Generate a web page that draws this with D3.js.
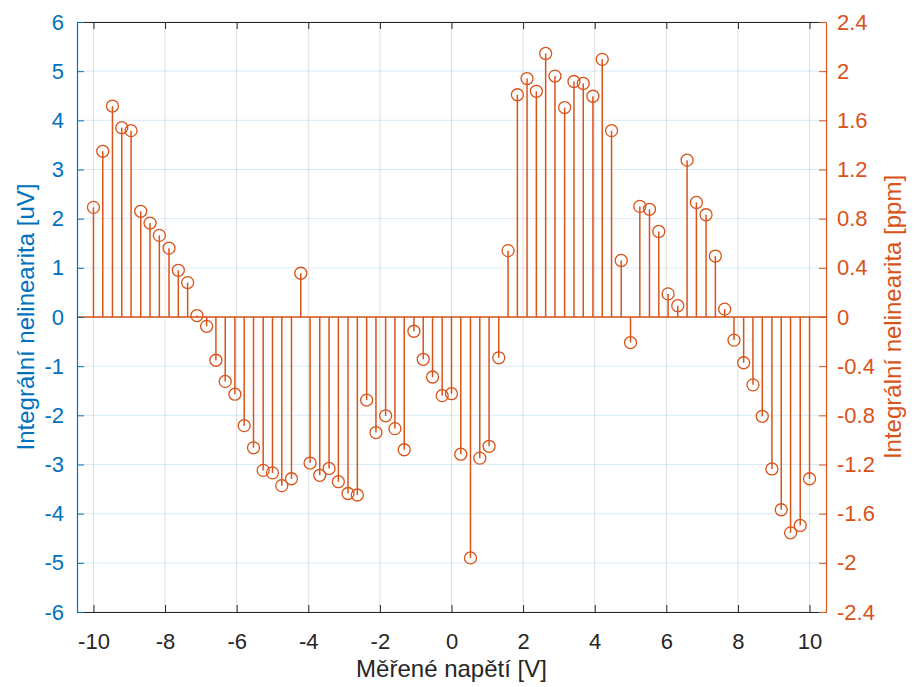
<!DOCTYPE html>
<html>
<head>
<meta charset="utf-8">
<script src="https://cdn.jsdelivr.net/npm/d3@7"></script>
<style>
  body { margin: 0; background: #fff; }
  text { font-family: 'Liberation Sans', Arial, sans-serif; }
</style>
</head>
<body>
<div id="chart"></div>
<script>
// measured voltage [V]
var volts = [
  -10, -9.74, -9.47, -9.21, -8.95, -8.68, -8.42, -8.16, -7.89, -7.63,
  -7.37, -7.11, -6.84, -6.58, -6.32, -6.05, -5.79, -5.53, -5.26, -5.00,
  -4.74, -4.47, -4.21, -3.95, -3.68, -3.42, -3.16, -2.89, -2.63, -2.37,
  -2.11, -1.84, -1.58, -1.32, -1.05, -0.79, -0.53, -0.26, 0, 0.26,
  0.53, 0.79, 1.05, 1.32, 1.58, 1.84, 2.11, 2.37, 2.63, 2.89,
  3.16, 3.42, 3.68, 3.95, 4.21, 4.47, 4.74, 5.00, 5.26, 5.53,
  5.79, 6.05, 6.32, 6.58, 6.84, 7.11, 7.37, 7.63, 7.89, 8.16,
  8.42, 8.68, 8.95, 9.21, 9.47, 9.74, 10
]

// integral nonlinearity [uV]
var inl = [
  2.23, 3.37, 4.29, 3.85, 3.79, 2.15, 1.91, 1.66, 1.40, 0.95,
  0.70, 0.03, -0.19, -0.88, -1.31, -1.57, -2.21, -2.66, -3.12, -3.17,
  -3.43, -3.29, 0.89, -2.97, -3.22, -3.08, -3.35, -3.59, -3.62, -1.69,
  -2.35, -2.01, -2.27, -2.70, -0.29, -0.86, -1.22, -1.60, -1.56, -2.79,
  -4.90, -2.87, -2.63, -0.83, 1.35, 4.52, 4.85, 4.59, 5.36, 4.90,
  4.26, 4.79, 4.75, 4.49, 5.24, 3.79, 1.15, -0.52, 2.25, 2.19,
  1.74, 0.47, 0.23, 3.19, 2.33, 2.08, 1.24, 0.16, -0.47, -0.93,
  -1.38, -2.02, -3.09, -3.92, -4.39, -4.24, -3.29
]

var xTicks = [-10, -8, -6, -4, -2, 0, 2, 4, 6, 8, 10]
var yTicksLeft = [-6, -5, -4, -3, -2, -1, 0, 1, 2, 3, 4, 5, 6]
var yTicksRight = [-2.4, -2, -1.6, -1.2, -0.8, -0.4, 0, 0.4, 0.8, 1.2, 1.6, 2, 2.4]

var blue = '#0072bd'
var orange = '#d95319'
var dark = '#262626'

var margin = {left: 77, right: 93, top: 22, bottom: 75}
var totalWidth = 919, totalHeight = 687
var width = totalWidth - margin.left - margin.right
var height = totalHeight - margin.top - margin.bottom

var svg = d3.select('#chart').append('svg')
  .attr('width', totalWidth).attr('height', totalHeight)
var g = svg.append('g').attr('transform', 'translate(' + margin.left + ',' + margin.top + ')')

var x = d3.scaleLinear().domain([-10.46, 10.46]).range([0, width])
var y = d3.scaleLinear().domain([-6, 6]).range([height, 0])
var y2 = d3.scaleLinear().domain([-2.4, 2.4]).range([height, 0])

// grid
g.selectAll('line.xgrid').data(xTicks).enter().append('line')
  .attr('x1', d => x(d)).attr('x2', d => x(d))
  .attr('y1', 0).attr('y2', height)
  .attr('stroke', dark).attr('stroke-opacity', 0.15)
g.selectAll('line.ygrid').data(yTicksLeft).enter().append('line')
  .attr('x1', 0).attr('x2', width)
  .attr('y1', d => y(d)).attr('y2', d => y(d))
  .attr('stroke', blue).attr('stroke-opacity', 0.15)

// stems
var data = volts.map((v, i) => ({v: v, e: inl[i]}))

g.append('line')
  .attr('x1', 0).attr('x2', width)
  .attr('y1', y(0)).attr('y2', y(0))
  .attr('stroke', orange).attr('stroke-width', 1.5)

g.selectAll('line.stem').data(data).enter().append('line')
  .attr('x1', d => x(d.v)).attr('x2', d => x(d.v))
  .attr('y1', y(0)).attr('y2', d => y(d.e))
  .attr('stroke', orange).attr('stroke-width', 1.5)

g.selectAll('circle').data(data).enter().append('circle')
  .attr('cx', d => x(d.v)).attr('cy', d => y(d.e)).attr('r', 6)
  .attr('fill', 'none').attr('stroke', orange).attr('stroke-width', 1.3)

// axes
function styleAxis(sel, color){
  sel.select('.domain').attr('stroke', color).attr('stroke-width', 1.2)
  sel.selectAll('.tick line').attr('stroke', color)
  sel.selectAll('.tick text').attr('fill', color).style('font-size', '22px')
}

// plain numbers with a hyphen minus, as matlab prints them
var fmt = d => String(d)

g.append('g').attr('transform', 'translate(0,' + height + ')')
  .call(d3.axisBottom(x).tickValues(xTicks).tickSizeInner(-7).tickSizeOuter(0).tickPadding(21).tickFormat(fmt))
  .call(s => styleAxis(s, dark))
g.append('g')
  .call(d3.axisTop(x).tickValues(xTicks).tickSizeInner(-7).tickSizeOuter(0).tickFormat(''))
  .call(s => styleAxis(s, dark))
g.append('g')
  .call(d3.axisLeft(y).tickValues(yTicksLeft).tickSizeInner(-7).tickSizeOuter(0).tickPadding(13).tickFormat(fmt))
  .call(s => styleAxis(s, blue))
g.append('g').attr('transform', 'translate(' + width + ',0)')
  .call(d3.axisRight(y2).tickValues(yTicksRight).tickSizeInner(-7).tickSizeOuter(0).tickPadding(11).tickFormat(fmt))
  .call(s => styleAxis(s, orange))

// labels
svg.append('text')
  .attr('x', margin.left + x(0)).attr('y', 677)
  .attr('text-anchor', 'middle').attr('fill', dark).style('font-size', '24px')
  .text('Měřené napětí [V]')

svg.append('text')
  .attr('transform', 'translate(34,' + (margin.top + height / 2) + ') rotate(-90)')
  .attr('text-anchor', 'middle').attr('fill', blue).style('font-size', '24px')
  .text('Integrální nelinearita [uV]')

svg.append('text')
  .attr('transform', 'translate(901,' + (margin.top + height / 2) + ') rotate(-90)')
  .attr('text-anchor', 'middle').attr('fill', orange).style('font-size', '24px')
  .text('Integrální nelinearita [ppm]')
</script>
</body>
</html>
